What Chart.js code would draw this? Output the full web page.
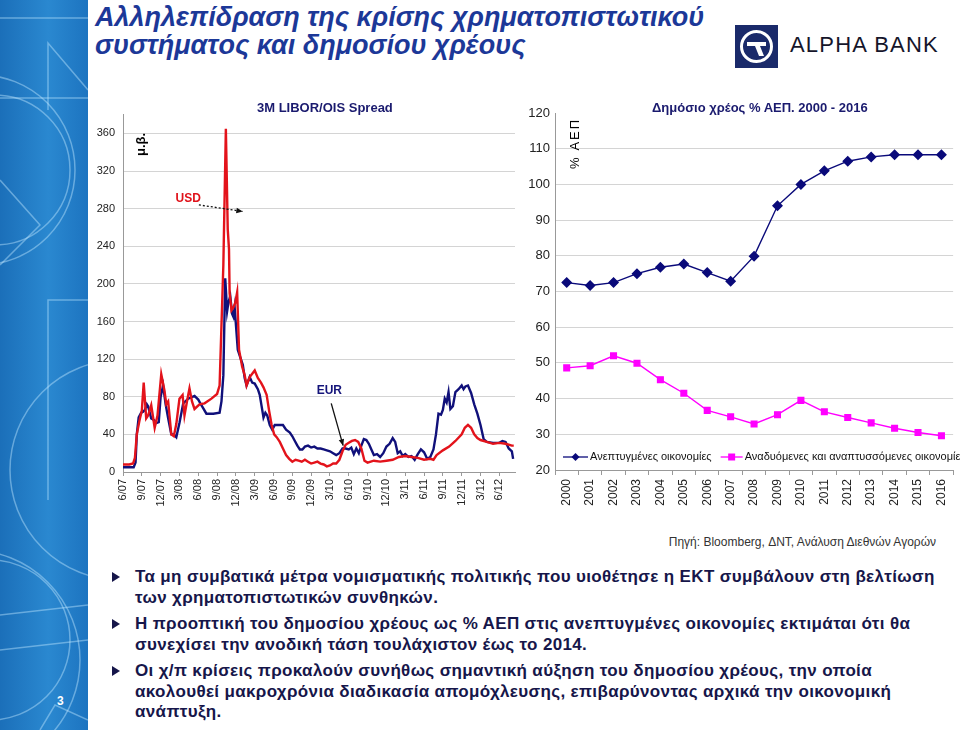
<!DOCTYPE html>
<html lang="el">
<head>
<meta charset="UTF-8">
<title>Αλληλεπίδραση της κρίσης χρηματοπιστωτικού συστήματος και δημοσίου χρέους</title>
<style>
  body { margin: 0; width: 960px; height: 730px; position: relative; overflow: hidden; background: #fff; font-family: "Liberation Sans", Arial, sans-serif; }
  .strip { position: absolute; left: 0; top: 0; width: 88px; height: 730px; background: linear-gradient(90deg, #1b6fb9, #2a88d0 55%, #1d74c0); }
  .strip svg { position: absolute; left: 0; top: 0; }
  .pagenum { position: absolute; left: 57px; top: 694px; color: #fff; font-weight: bold; font-size: 12px; }
  .title { position: absolute; left: 95px; top: 3px; font-size: 27px; line-height: 28px; font-weight: bold; font-style: italic; color: #1c3898; }
  .logo { position: absolute; left: 735px; top: 25px; width: 43px; height: 43px; background: #1a2a6a; }
  .logo-text { position: absolute; left: 790px; top: 32px; font-size: 22px; color: #15152a; letter-spacing: 1.2px; }
  .box { position: absolute; }
  .chart-title { position: absolute; font-size: 13px; font-weight: bold; color: #1a1a6e; white-space: nowrap; }
  .vlabel { position: absolute; transform: rotate(-90deg); transform-origin: left top; white-space: nowrap; font-size: 13px; }
  .source { position: absolute; right: 24px; top: 535px; font-size: 12px; color: #333; }
  .bullets { position: absolute; left: 135px; top: 567px; width: 820px; font-size: 17px; font-weight: bold; line-height: 20.5px; color: #16164a; letter-spacing: 0.35px; }
  .bullets p { margin: 0 0 6px 0; position: relative; }
  .bullets p::before { content: ""; position: absolute; left: -23px; top: 5px; border-left: 8px solid #16164a; border-top: 5px solid transparent; border-bottom: 5px solid transparent; }
</style>
</head>
<body>
<div class="strip">
  <svg width="88" height="730" viewBox="0 0 88 730">
    <g fill="none" stroke="rgba(190,230,255,0.45)" stroke-width="1.5">
      <line x1="0" y1="18" x2="88" y2="18"/>
      <line x1="0" y1="98" x2="88" y2="98"/>
      <polyline points="48,110 48,43 88,90"/>
      <circle cx="-5" cy="170" r="75"/>
      <circle cx="-20" cy="170" r="95"/>
      <polyline points="0,180 40,225 0,265"/>
      <circle cx="120" cy="470" r="110"/>
      <polyline points="48,500 48,300 88,300"/>
      <circle cx="-30" cy="660" r="110"/>
      <circle cx="-10" cy="640" r="80"/>
      <line x1="0" y1="615" x2="88" y2="605"/>
      <line x1="0" y1="650" x2="88" y2="640"/>
      <polyline points="40,730 55,705 88,720"/>
    </g>
  </svg>
  <div class="pagenum">3</div>
</div>

<div class="title">Αλληλεπίδραση της κρίσης χρηματοπιστωτικού<br>συστήματος και δημοσίου χρέους</div>

<div class="logo">
  <svg width="43" height="43" viewBox="0 0 43 43">
    <circle cx="21.5" cy="21.5" r="15" fill="none" stroke="#fff" stroke-width="3"/>
    <path d="M12 17 L31 17 L31 21 L25 21 L29 31 L24 31 L20 21 L12 21 Z" fill="#fff"/>
  </svg>
</div>
<div class="logo-text">ALPHA BANK</div>

<div class="box" style="left:95px; top:100px; width:425px; height:435px;">
  <canvas id="spreadChart" width="425" height="435"></canvas>
</div>
<div class="chart-title" style="left:257px; top:100px;">3M LIBOR/OIS Spread</div>
<div class="vlabel" style="left:133px; top:156px; font-weight:bold;">μ.β.</div>

<div class="box" style="left:520px; top:100px; width:440px; height:435px;">
  <canvas id="debtChart" width="440" height="435"></canvas>
</div>
<div class="chart-title" style="left:652px; top:100px;">Δημόσιο χρέος % ΑΕΠ. 2000 - 2016</div>
<div class="vlabel" style="left:567px; top:169px; letter-spacing:2px;">% ΑΕΠ</div>

<div class="source">Πηγή: Bloomberg, ΔΝΤ, Ανάλυση Διεθνών Αγορών</div>

<div class="bullets">
  <p>Τα μη συμβατικά μέτρα νομισματικής πολιτικής που υιοθέτησε η ΕΚΤ συμβάλουν στη βελτίωση<br>των χρηματοπιστωτικών συνθηκών.</p>
  <p>Η προοπτική του δημοσίου χρέους ως % ΑΕΠ στις ανεπτυγμένες οικονομίες εκτιμάται ότι θα<br>συνεχίσει την ανοδική τάση τουλάχιστον έως το 2014.</p>
  <p>Οι χ/π κρίσεις προκαλούν συνήθως σημαντική αύξηση του δημοσίου χρέους, την οποία<br>ακολουθεί μακροχρόνια διαδικασία απομόχλευσης, επιβαρύνοντας αρχικά την οικονομική<br>ανάπτυξη.</p>
</div>

<script src="https://cdn.jsdelivr.net/npm/chart.js"></script>
<script>
  // Αριστερό γράφημα: μήνες από 6/07, μονάδες βάσης
  const dateTicks = ['6/07','9/07','12/07','3/08','6/08','9/08','12/08','3/09','6/09','9/09','12/09',
                     '3/10','6/10','9/10','12/10','3/11','6/11','9/11','12/11','3/12','6/12'];

  const usdMonths = [0,1.0,1.6,1.9,2.2,2.7,3.0,3.3,3.7,4.0,4.5,5.05,5.5,6.1,6.6,6.9,7.2,7.7,8.1,8.5,9.0,9.5,9.8,10.2,10.6,11.0,11.4,12.2,13.0,14.1,15.0,15.4,
                     16.0,16.4,16.7,16.9,17.0,17.3,17.6,17.9,18.2,18.5,19.0,19.4,19.7,20.2,21.0,21.5,22.0,22.4,22.9,23.3,23.7,24.1,24.5,25.0,25.5,26.0,26.5,
                     27.0,27.5,28.0,28.5,29.0,29.5,30.0,30.5,31.0,31.5,32.0,32.5,33.0,33.5,34.0,34.5,35.0,35.5,36.0,36.5,37.0,37.5,38.0,38.5,39.0,39.5,
                     40.0,41.0,42.0,43.0,44.0,45.0,46.0,47.0,48.0,49.0,49.5,50.0,51.0,52.0,53.0,54.0,54.5,55.0,55.5,56.0,56.5,57.0,58.0,59.0,60.0,61.0,62.0,62.3];
  const usdValues = [8,8,9,15,40,57,65,95,57,60,71,47,60,104,87,72,75,40,38,51,78,82,60,75,89,75,67,72,73,78,83,92,
                     220,365,258,237,190,172,175,180,191,130,112,103,92,101,108,100,95,90,82,65,50,40,37,32,25,18,14,
                     11,13,12,11,13,11,9,10,11,9,8,6,7,9,9,13,22,29,31,33,34,32,25,12,10,11,
                     12,11,12,13,16,17,16,15,13,14,13,18,23,27,33,40,47,50,47,40,36,34,32,30,31,30,28,28];

  const eurMonths = [0,1.0,1.7,2.0,2.2,2.5,2.9,3.2,3.5,3.8,4.0,4.5,5.0,5.3,5.7,6.0,6.4,6.8,7.2,7.7,8.1,8.5,9.0,9.6,10.4,11.4,12.0,12.5,13.3,14.4,15.4,15.7,
                     16.0,16.3,16.6,16.8,17.1,17.4,17.6,17.8,18.3,18.7,19.1,19.4,19.7,20.2,20.6,21.0,21.5,21.8,22.1,22.4,22.7,23.0,23.4,23.8,24.2,24.6,25.0,
                     25.5,26.0,26.6,27.0,27.4,27.8,28.2,28.6,29.0,29.5,30.0,30.5,31.0,31.5,32.0,32.5,33.0,33.5,34.0,34.5,35.0,35.5,36.0,36.4,36.8,37.2,37.6,
                     38.0,38.4,38.8,39.2,39.6,40.0,40.5,41.0,41.5,42.0,42.5,43.0,43.4,43.8,44.2,44.6,45.0,45.5,46.0,46.5,47.0,47.5,48.0,48.5,49.0,49.5,49.9,
                     50.3,50.7,51.0,51.3,51.6,51.9,52.2,52.6,53.0,53.5,54.0,54.3,54.6,55.0,55.5,56.0,56.5,57.0,57.5,58.0,59.0,60.0,60.5,61.0,61.5,62.0,62.2];
  const eurValues = [5,5,5,10,40,58,63,64,66,72,70,57,55,52,53,80,92,72,57,40,40,37,52,73,78,81,77,71,62,62,63,75,
                     103,206,171,180,187,168,165,175,130,122,114,100,92,101,95,94,88,82,70,58,63,60,50,45,50,50,50,
                     50,45,42,38,33,28,24,24,27,28,26,27,25,25,24,23,22,20,18,20,25,25,24,26,19,25,20,
                     28,35,34,30,24,18,19,16,20,27,30,36,32,20,22,17,19,16,17,13,19,24,21,14,16,24,40,
                     62,61,66,78,74,85,67,70,85,88,92,88,91,92,84,72,62,50,35,32,31,31,33,32,25,22,14];

  // Δεξί γράφημα: δημόσιο χρέος % ΑΕΠ
  const years = ['2000','2001','2002','2003','2004','2005','2006','2007','2008','2009','2010','2011','2012','2013','2014','2015','2016'];
  const advanced = [72.5,71.7,72.5,75.0,76.8,77.7,75.3,72.9,79.9,94.0,100.0,103.8,106.5,107.7,108.3,108.3,108.3];
  const emerging = [48.6,49.2,52.0,49.9,45.3,41.5,36.7,34.9,32.9,35.5,39.5,36.3,34.7,33.2,31.7,30.5,29.6];

  const seriesLabels = ['Ανεπτυγμένες οικονομίες', 'Αναδυόμενες και αναπτυσσόμενες οικονομίες'];

  const notes = [
    { text: 'USD', color: '#e0121a', m: 10.4, v: 291 },
    { text: 'EUR', color: '#14147a', m: 32.9, v: 86 }
  ];
  const arrows = [
    { from: [12.1, 284], to: [19.1, 277], dash: [2, 2] },
    { from: [33.2, 73], to: [35.1, 28], dash: [] }
  ];

  Chart.defaults.font.family = '"Liberation Sans", Arial, sans-serif';
  Chart.defaults.color = '#222';

  function pairs(xs, ys) {
    return xs.map((x, i) => ({ x: x, y: ys[i] }));
  }

  const notesPlugin = {
    id: 'notes',
    afterDatasetsDraw(chart) {
      const ctx = chart.ctx;
      const sx = chart.scales.x, sy = chart.scales.y;
      ctx.save();
      arrows.forEach(a => {
        const x1 = sx.getPixelForValue(a.from[0]), y1 = sy.getPixelForValue(a.from[1]);
        const x2 = sx.getPixelForValue(a.to[0]), y2 = sy.getPixelForValue(a.to[1]);
        ctx.strokeStyle = '#111';
        ctx.lineWidth = 1.3;
        ctx.setLineDash(a.dash);
        ctx.beginPath();
        ctx.moveTo(x1, y1);
        ctx.lineTo(x2, y2);
        ctx.stroke();
        ctx.setLineDash([]);
        const ang = Math.atan2(y2 - y1, x2 - x1);
        ctx.fillStyle = '#111';
        ctx.beginPath();
        ctx.moveTo(x2, y2);
        ctx.lineTo(x2 - 7 * Math.cos(ang - 0.4), y2 - 7 * Math.sin(ang - 0.4));
        ctx.lineTo(x2 - 7 * Math.cos(ang + 0.4), y2 - 7 * Math.sin(ang + 0.4));
        ctx.closePath();
        ctx.fill();
      });
      ctx.font = 'bold 12px "Liberation Sans", Arial, sans-serif';
      ctx.textAlign = 'center';
      ctx.textBaseline = 'middle';
      notes.forEach(n => {
        ctx.fillStyle = n.color;
        ctx.fillText(n.text, sx.getPixelForValue(n.m), sy.getPixelForValue(n.v));
      });
      ctx.restore();
    }
  };

  new Chart(document.getElementById('spreadChart'), {
    type: 'line',
    data: {
      datasets: [
        { label: 'USD', data: pairs(usdMonths, usdValues), borderColor: '#e3131b', borderWidth: 2.4, pointRadius: 0, tension: 0 },
        { label: 'EUR', data: pairs(eurMonths, eurValues), borderColor: '#10107a', borderWidth: 2.4, pointRadius: 0, tension: 0 }
      ]
    },
    options: {
      responsive: false,
      animation: false,
      layout: { padding: { top: 6, right: 5, left: 0, bottom: 0 } },
      plugins: { legend: { display: false }, tooltip: { enabled: false } },
      scales: {
        x: {
          type: 'linear', min: 0, max: 62.5,
          afterFit(s) { s.height = 63; },
          grid: { drawOnChartArea: false, drawTicks: true, tickLength: 4, color: '#999' },
          border: { color: '#999' },
          ticks: {
            stepSize: 3, autoSkip: false, minRotation: 90, maxRotation: 90, padding: 3,
            font: { size: 11 },
            callback: v => (v % 3 === 0 && dateTicks[v / 3]) ? dateTicks[v / 3] : null
          }
        },
        y: {
          min: 0, max: 380,
          afterFit(s) { s.width = 28; },
          grid: { color: '#d4d4d4', borderDash: [4, 3], drawTicks: false },
          border: { color: '#999', dash: [] },
          ticks: { stepSize: 40, padding: 8, font: { size: 11 }, callback: v => v % 40 === 0 && v <= 360 ? v : null }
        }
      }
    },
    plugins: [notesPlugin]
  });

  const legendPlugin = {
    id: 'inlineLegend',
    afterDraw(chart) {
      const ctx = chart.ctx;
      const area = chart.chartArea;
      const y = area.bottom - 13;
      let x = area.left + 8;
      ctx.save();
      ctx.font = '11px "Liberation Sans", Arial, sans-serif';
      ctx.textBaseline = 'middle';
      const styles = [
        { color: '#0a0a7a', len: 25, marker: 'diamond' },
        { color: '#ff00ff', len: 22, marker: 'square' }
      ];
      styles.forEach((s, i) => {
        ctx.strokeStyle = s.color;
        ctx.lineWidth = 1.3;
        ctx.beginPath();
        ctx.moveTo(x, y);
        ctx.lineTo(x + s.len, y);
        ctx.stroke();
        const cx = x + s.len / 2;
        ctx.fillStyle = s.color;
        ctx.beginPath();
        if (s.marker === 'diamond') {
          ctx.moveTo(cx, y - 4); ctx.lineTo(cx + 4, y); ctx.lineTo(cx, y + 4); ctx.lineTo(cx - 4, y);
        } else {
          ctx.rect(cx - 3.5, y - 3.5, 7, 7);
        }
        ctx.closePath();
        ctx.fill();
        ctx.fillStyle = '#111';
        ctx.fillText(seriesLabels[i], x + s.len + 2, y);
        x += s.len + 2 + ctx.measureText(seriesLabels[i]).width + 9;
      });
      ctx.restore();
    }
  };

  new Chart(document.getElementById('debtChart'), {
    type: 'line',
    data: {
      labels: years,
      datasets: [
        { label: seriesLabels[0], data: advanced, borderColor: '#0a0a7a', backgroundColor: '#0a0a7a', borderWidth: 1.4,
          pointStyle: 'rectRot', pointRadius: 4.5, tension: 0 },
        { label: seriesLabels[1], data: emerging, borderColor: '#ff00ff', backgroundColor: '#ff00ff', borderWidth: 1.4,
          pointStyle: 'rect', pointRadius: 4, tension: 0 }
      ]
    },
    options: {
      responsive: false,
      animation: false,
      layout: { padding: { top: 13, right: 3, left: 0, bottom: 0 } },
      plugins: { legend: { display: false }, tooltip: { enabled: false } },
      scales: {
        x: {
          offset: true,
          afterFit(s) { s.height = 65; },
          grid: { offset: true, drawOnChartArea: false, drawTicks: true, tickLength: 5, color: '#999' },
          border: { color: '#999' },
          ticks: { autoSkip: false, minRotation: 90, maxRotation: 90, padding: 4, font: { size: 12 } }
        },
        y: {
          min: 20, max: 120,
          afterFit(s) { s.width = 35; },
          grid: { color: c => c.tick && c.tick.value === 120 ? 'rgba(0,0,0,0)' : '#d4d4d4', borderDash: [4, 3], drawTicks: false },
          border: { color: '#999' },
          ticks: { stepSize: 10, padding: 5, font: { size: 13 } }
        }
      }
    },
    plugins: [legendPlugin]
  });
</script>
</body>
</html>
